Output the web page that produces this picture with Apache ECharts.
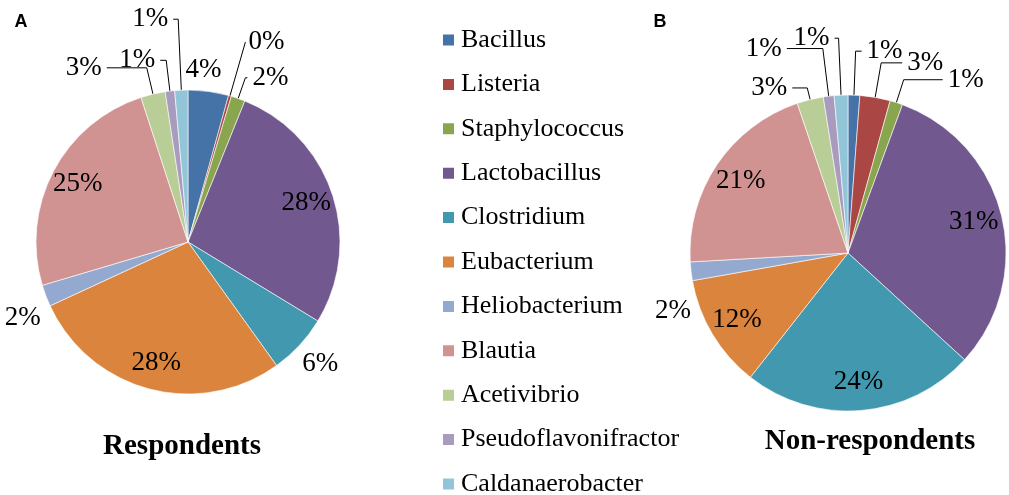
<!DOCTYPE html>
<html><head><meta charset="utf-8">
<script src="https://cdn.jsdelivr.net/npm/echarts@6/dist/echarts.min.js"></script>
<style>html,body{margin:0;background:#fff}#c{width:1009px;height:495px}</style></head>
<body><div id="c"></div>
<script>
const categories = ['Bacillus','Listeria','Staphylococcus','Lactobacillus','Clostridium','Eubacterium','Heliobacterium','Blautia','Acetivibrio','Pseudoflavonifractor','Caldanaerobacter'];
const respondents = [4.3,0.3,1.5,27.6,6.4,28.0,2.3,24.6,2.6,1.0,1.4];
const nonRespondents = [1.2,3.1,1.3,31.2,23.8,11.6,1.9,20.7,2.7,1.1,1.4];
const panelTitles = ['Respondents','Non-respondents'];
const panelLetters = ['A','B'];
const colors = ['#4572A7','#AA4643','#89A54E','#71588F','#4198AF','#DB843D','#93A9CF','#D19392','#B9CD96','#A99BBD','#92C5D8'];

// label styling for the small (outside) slices: leader-line lengths and nudges
const labelTweaks = [
  {
    Bacillus: {len: 22, len2: 0, line: false, dist: 0, dx: -26},
    Listeria: {len: 56, len2: 0, dist: 3},
    Staphylococcus: {len: 22, len2: 2},
    Clostridium: {len: 8, len2: 0, line: false, dist: 0, dy: 13, dx: -3},
    Heliobacterium: {len: 0, len2: 0, line: false, dy: 22},
    Acetivibrio: {len: 27, len2: 40},
    Pseudoflavonifractor: {len: 31, len2: 6},
    Caldanaerobacter: {len: 71, len2: 5}
  },
  {
    Bacillus: {len: 44, len2: 6},
    Listeria: {len: 35, len2: 21},
    Staphylococcus: {len: 24, len2: 39},
    Heliobacterium: {len: 0, len2: 0, line: false, dist: 0, dy: 40},
    Acetivibrio: {len: 12, len2: 15},
    Pseudoflavonifractor: {len: 48, len2: 36},
    Caldanaerobacter: {len: 57, len2: 4}
  }
];

const SERIF = 'Liberation Serif, Times New Roman, serif';
const labelFont = {fontFamily: SERIF, fontSize: 27, color: '#000'};
const pies = [
  {vals: respondents, center: [188, 242], r: 152},
  {vals: nonRespondents, center: [848, 253], r: 158}
];
const series = [];
pies.forEach((p, k) => {
  series.push({
    type: 'pie', name: panelTitles[k], center: p.center, radius: [0, p.r],
    startAngle: 90, clockwise: true, percentPrecision: 0, avoidLabelOverlap: false,
    bleedMargin: 0, color: colors,
    itemStyle: {borderColor: '#fff', borderWidth: 0.6},
    label: Object.assign({position: 'outside', formatter: '{d}%', overflow: 'none'}, labelFont),
    labelLine: {length: 14, length2: 10, smooth: false, lineStyle: {color: '#000', width: 1}},
    labelLayout: function (params) {
      const t = labelTweaks[k][categories[params.dataIndex]];
      if (!t || (!t.dx && !t.dy)) return {};
      return {dx: t.dx || 0, dy: t.dy || 0};
    },
    emphasis: {disabled: true},
    data: categories.map((n, i) => {
      const small = p.vals[i] < 10;
      const t = labelTweaks[k][n] || {};
      const lab = {show: small};
      if (t.dist !== undefined) lab.distanceToLabelLine = t.dist;
      return {name: n, value: p.vals[i], label: lab,
        labelLine: {show: small && t.line !== false,
          length: t.len !== undefined ? t.len : 14, length2: t.len2 !== undefined ? t.len2 : 10}};
    })
  });
  series.push({
    type: 'pie', name: panelTitles[k] + ' labels', center: p.center, radius: [p.r * 0.6, p.r],
    startAngle: 90, clockwise: true, percentPrecision: 0, silent: true,
    itemStyle: {color: 'rgba(0,0,0,0)'},
    label: Object.assign({position: 'inside', formatter: '{d}%'}, labelFont),
    labelLine: {show: false}, emphasis: {disabled: true},
    data: categories.map((n, i) => ({name: n, value: p.vals[i], label: {show: p.vals[i] >= 10}}))
  });
});

const chart = echarts.init(document.getElementById('c'));
chart.setOption({
  animation: false,
  color: colors,
  legend: {
    orient: 'vertical', left: 441, top: 27, height: 480, padding: 0,
    itemWidth: 13, itemHeight: 13, itemGap: 18.4,
    icon: 'rect', selectedMode: false, data: categories,
    textStyle: {fontFamily: SERIF, fontSize: 26, color: '#000', padding: [0, 0, 0, 1]}
  },
  graphic: [
    {type: 'text', x: 21, y: 22, style: {text: panelLetters[0], font: 'bold 18px Liberation Sans, Arial, sans-serif', fill: '#000', textAlign: 'center', textVerticalAlign: 'middle'}},
    {type: 'text', x: 660, y: 22, style: {text: panelLetters[1], font: 'bold 18px Liberation Sans, Arial, sans-serif', fill: '#000', textAlign: 'center', textVerticalAlign: 'middle'}},
    {type: 'text', x: 182, y: 447, style: {text: panelTitles[0], font: 'bold 29px Liberation Serif, Times New Roman, serif', fill: '#000', textAlign: 'center', textVerticalAlign: 'middle'}},
    {type: 'text', x: 870, y: 442, style: {text: panelTitles[1], font: 'bold 29px Liberation Serif, Times New Roman, serif', fill: '#000', textAlign: 'center', textVerticalAlign: 'middle'}}
  ],
  series: series
});
</script></body></html>
